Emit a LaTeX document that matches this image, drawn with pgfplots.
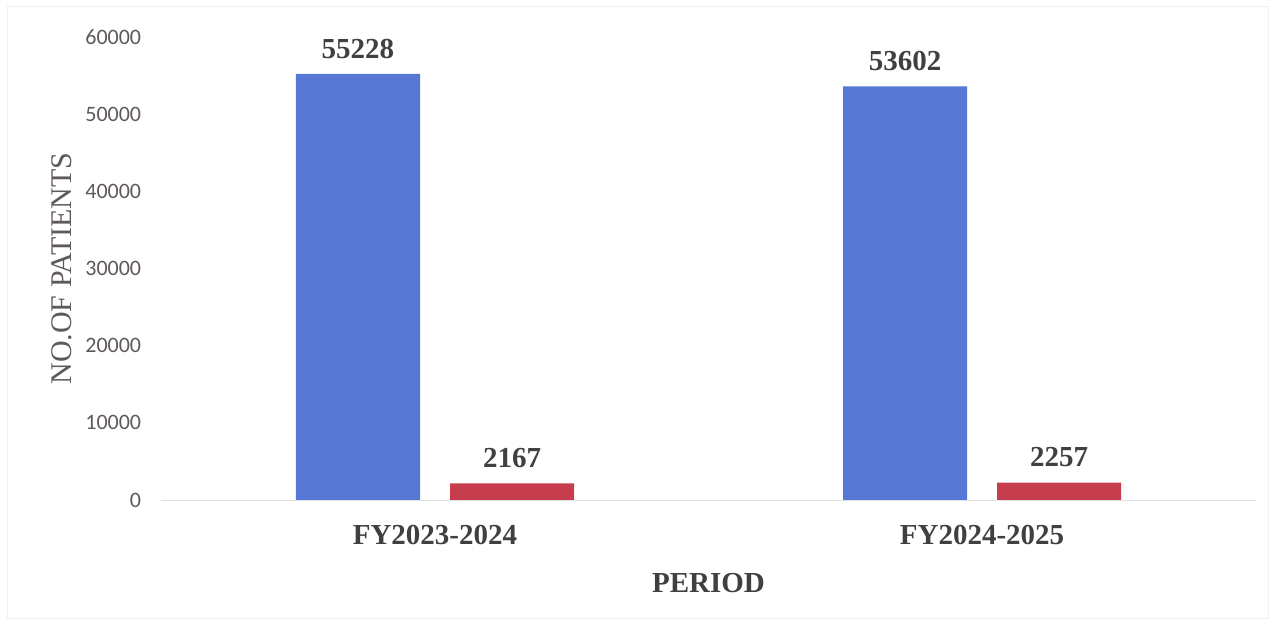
\documentclass[border=0pt]{standalone}
\usepackage{fontspec}
\setmainfont{Liberation Serif}
\newfontfamily\carlito{Carlito}
\usepackage{pgfplots}
\pgfplotsset{compat=1.18}
\definecolor{barblue}{RGB}{86,120,212}
\definecolor{barred}{RGB}{198,62,78}
\definecolor{labelgray}{RGB}{64,64,64}
\definecolor{tickgray}{RGB}{95,88,95}

\begin{document}
\begin{tikzpicture}
% page frame
\path[use as bounding box] (-80.75pt,-62.5pt) rectangle (556.75pt,250pt);
\draw[black!6, line width=0.5pt] (-76.75pt,246.5pt) rectangle (553.25pt,-59.5pt);
\begin{axis}[
  scale only axis, width=547pt, height=231.5pt,
  ymin=0, ymax=60000, ytick={0,10000,...,60000},
  scaled y ticks=false,
  xmin=-0.5, xmax=1.5, xtick={0,1},
  xticklabels={FY2023-2024,FY2024-2025},
  ybar, bar width=62pt,
  axis x line*=bottom, axis y line*=left,
  x axis line style={draw=black!12, -},
  y axis line style={draw=none},
  major tick length=0pt,
  /pgf/number format/1000 sep={},
  /pgf/number format/assume math mode=true,
  yticklabel style={font=\carlito\fontsize{11}{13}\selectfont, color=tickgray,
    anchor=east, inner sep=0pt, xshift=-10pt},
  xticklabel style={font=\bfseries\fontsize{14.5}{17}\selectfont, color=labelgray,
    anchor=north, inner sep=0pt, yshift=-12.5pt},
  xlabel={PERIOD},
  xlabel style={at={(axis description cs:0.5,-0.158)}, anchor=north, inner sep=0pt,
    font=\bfseries\fontsize{14.5}{17}\selectfont, color=labelgray},
  ylabel={NO.OF PATIENTS},
  ylabel style={at={(axis description cs:-0.091,0.5)}, anchor=center, inner sep=0pt,
    font=\fontsize{15}{18}\selectfont, color=tickgray},
  nodes near coords,
  every node near coord/.append style={font=\bfseries\fontsize{14.5}{17}\selectfont,
    color=labelgray, anchor=south, inner sep=0pt, yshift=7.5pt},
]
\addplot[fill=barblue, draw=none, bar shift=-38.5pt] coordinates {(0,55228) (1,53602)};
\addplot[fill=barred, draw=none, bar shift=38.5pt] coordinates {(0,2167) (1,2257)};
\end{axis}
\end{tikzpicture}
\end{document}
